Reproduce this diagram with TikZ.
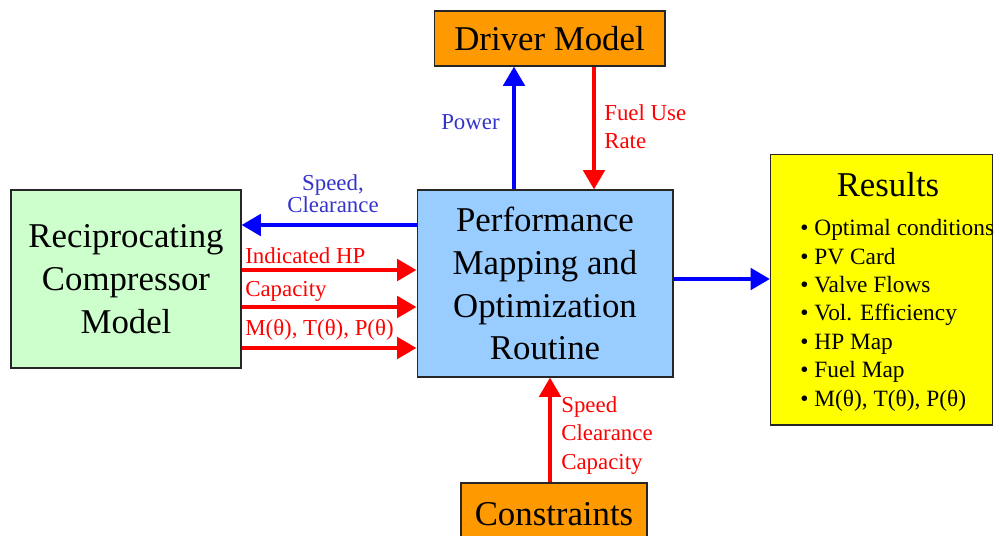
\documentclass[tikz,border=0pt]{standalone}
\usepackage{fontspec}
\setmainfont{Liberation Serif}
\usetikzlibrary{arrows.meta}
\definecolor{orangebox}{RGB}{255,153,0}
\definecolor{bluebox}{RGB}{153,204,255}
\definecolor{greenbox}{RGB}{204,255,204}
\definecolor{yellowbox}{RGB}{255,255,0}
\definecolor{labelblue}{RGB}{51,51,204}
\begin{document}
\begin{tikzpicture}[x=0.02cm,y=-0.02cm,
  box/.style={draw=black!85, line width=0.6pt, rectangle, inner sep=0pt, align=center,
    font=\fontsize{19.8}{24.4}\selectfont},
  arr/.style={line width=2.6pt, -{Triangle[length=11pt,width=12pt]}},
  barr/.style={arr, blue},
  rarr/.style={arr, red},
  lbl/.style={font=\fontsize{13}{16.2}\selectfont, inner sep=0pt, align=left},
  big/.style={font=\fontsize{19.8}{24.4}\selectfont, inner sep=0pt},
]
\useasboundingbox (0,0) rectangle (994,535);

\node[box, fill=orangebox, minimum width=4.62cm, minimum height=1.1cm] (driver) at (549.5,38.5) {Driver Model};
\node[box, fill=bluebox, minimum width=5.12cm, minimum height=3.74cm] (perf) at (545,283.5)
  {Performance\\Mapping and\\Optimization\\Routine};
\node[box, fill=greenbox, minimum width=4.6cm, minimum height=3.56cm] (recip) at (126,279)
  {Reciprocating\\Compressor\\Model};
\node[box, fill=yellowbox, minimum width=4.44cm, minimum height=5.42cm] (results) at (881.5,289.5) {};
\node[box, fill=orangebox, minimum width=3.72cm, minimum height=1.24cm] (cons) at (554,514) {Constraints};

\node[big] (restitle) at (888,185) {Results};
\node[lbl, font=\fontsize{13.3}{16.2}\selectfont, anchor=north west] (reslist) at (800,219)
  {\textbullet~Optimal conditions\\
   \textbullet~PV Card\\
   \textbullet~Valve Flows\\
   \textbullet~Vol. Efficiency\\
   \textbullet~HP Map\\
   \textbullet~Fuel Map\\
   \textbullet~M(θ), T(θ), P(θ)};

\draw[barr] ([xshift=-0.62cm]perf.north) -- ([xshift=-0.62cm]perf.north |- driver.south);
\draw[rarr] ([xshift=0.89cm]driver.south) -- ([xshift=0.89cm]driver.south |- perf.north);
\draw[barr] ([yshift=1.17cm]perf.west) -- ([yshift=1.17cm]perf.west -| recip.east);
\draw[rarr] ([yshift=0.27cm]perf.west -| recip.east) -- ([yshift=0.27cm]perf.west);
\draw[rarr] ([yshift=-0.47cm]perf.west -| recip.east) -- ([yshift=-0.47cm]perf.west);
\draw[rarr] ([yshift=-1.29cm]perf.west -| recip.east) -- ([yshift=-1.29cm]perf.west);
\draw[barr] ([yshift=0.09cm]perf.east) -- ([yshift=0.09cm]perf.east -| results.west);
\draw[rarr] ([xshift=-0.08cm]cons.north) -- ([xshift=-0.08cm]cons.north |- perf.south);

\node[lbl, text=labelblue, anchor=east] (lpower) at (500,122) {Power};
\node[lbl, text=red, anchor=west] (lfuel) at (604,126.5) {Fuel Use\\Rate};
\node[lbl, text=labelblue, align=center, font=\fontsize{13}{12.6}\selectfont] (lspeed) at (333,194) {Speed,\\Clearance};
\node[lbl, text=red, anchor=west] (lihp) at (245,256) {Indicated HP};
\node[lbl, text=red, anchor=west] (lcap) at (245,291) {Capacity};
\node[lbl, text=red, anchor=west] (lmtp) at (245,330) {M(θ), T(θ), P(θ)};
\node[lbl, text=red, anchor=west] (lcons) at (561,435.5) {Speed\\Clearance\\Capacity};
\end{tikzpicture}
\end{document}
